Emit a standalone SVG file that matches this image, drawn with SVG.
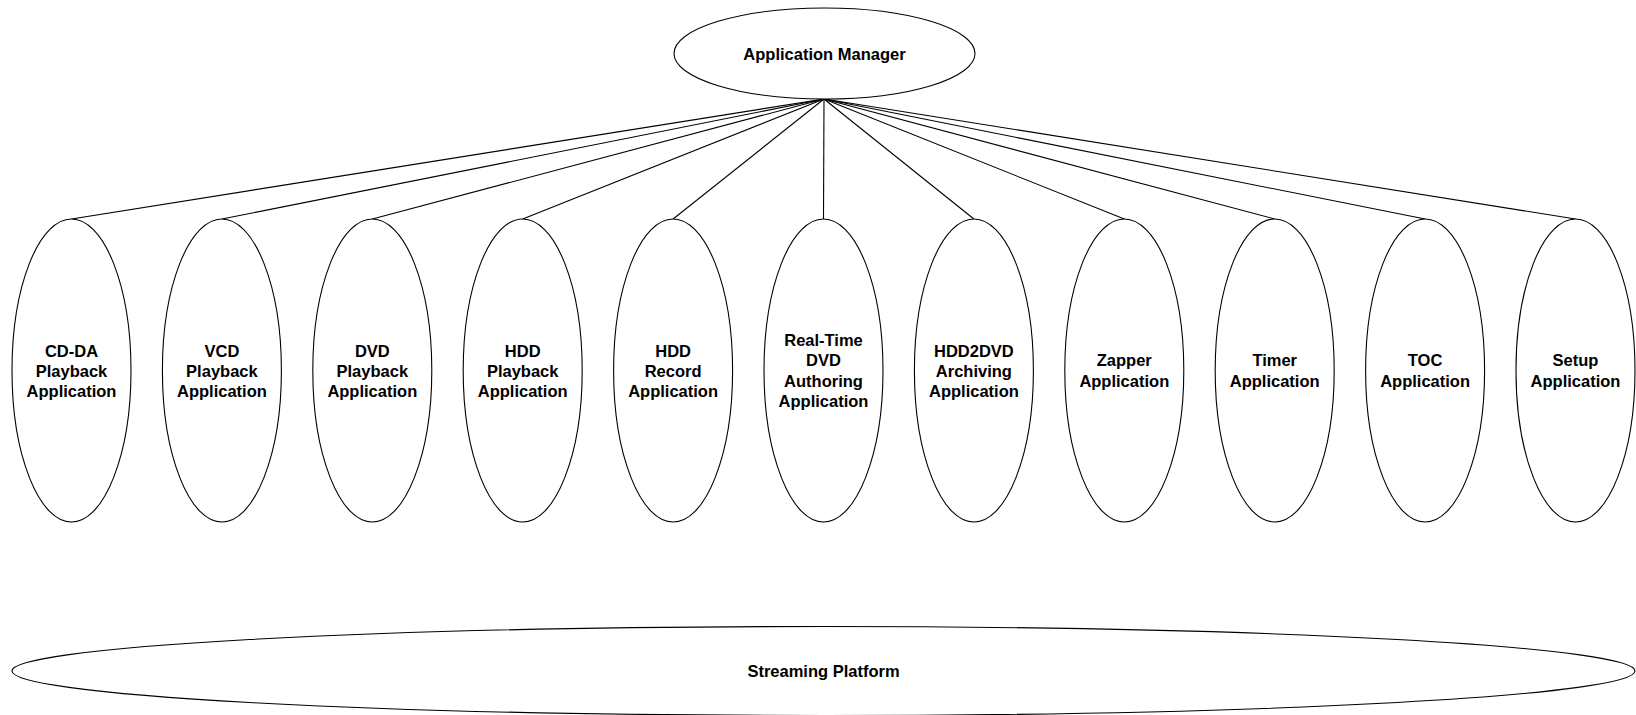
<svg xmlns="http://www.w3.org/2000/svg" width="1636" height="715" viewBox="0 0 1636 715">
<style>
.n{fill:#fff;stroke:#000;stroke-width:1.1}
.t{font-family:"Liberation Sans",Arial,sans-serif;font-weight:bold;font-size:16.5px;text-anchor:middle;fill:#000}
.c line{stroke:#000;stroke-width:1.1}
</style>
<rect width="1636" height="715" fill="#fff"/>
<g class="c" id="connectors">
<line x1="824" y1="99" x2="71.5" y2="219"/>
<line x1="824" y1="99" x2="221.9" y2="219"/>
<line x1="824" y1="99" x2="372.3" y2="219"/>
<line x1="824" y1="99" x2="522.7" y2="219"/>
<line x1="824" y1="99" x2="673.1" y2="219"/>
<line x1="824" y1="99" x2="823.5" y2="219"/>
<line x1="824" y1="99" x2="973.9" y2="219"/>
<line x1="824" y1="99" x2="1124.3" y2="219"/>
<line x1="824" y1="99" x2="1274.7" y2="219"/>
<line x1="824" y1="99" x2="1425.1" y2="219"/>
<line x1="824" y1="99" x2="1575.5" y2="219"/>
</g>
<g id="app-manager">
<ellipse class="n" cx="824.5" cy="53.5" rx="150.5" ry="45.5"/>
<text class="t" x="824.5" y="59.5">Application Manager</text>
</g>
<g id="cdda">
<ellipse class="n" cx="71.5" cy="370.5" rx="59.5" ry="151.5"/>
<text class="t" x="71.5" y="356.5">CD-DA<tspan x="71.5" dy="20.2">Playback</tspan><tspan x="71.5" dy="20.2">Application</tspan></text>
</g>
<g id="vcd">
<ellipse class="n" cx="221.9" cy="370.5" rx="59.5" ry="151.5"/>
<text class="t" x="221.9" y="356.5">VCD<tspan x="221.9" dy="20.2">Playback</tspan><tspan x="221.9" dy="20.2">Application</tspan></text>
</g>
<g id="dvd">
<ellipse class="n" cx="372.3" cy="370.5" rx="59.5" ry="151.5"/>
<text class="t" x="372.3" y="356.5">DVD<tspan x="372.3" dy="20.2">Playback</tspan><tspan x="372.3" dy="20.2">Application</tspan></text>
</g>
<g id="hdd-playback">
<ellipse class="n" cx="522.7" cy="370.5" rx="59.5" ry="151.5"/>
<text class="t" x="522.7" y="356.5">HDD<tspan x="522.7" dy="20.2">Playback</tspan><tspan x="522.7" dy="20.2">Application</tspan></text>
</g>
<g id="hdd-record">
<ellipse class="n" cx="673.1" cy="370.5" rx="59.5" ry="151.5"/>
<text class="t" x="673.1" y="356.5">HDD<tspan x="673.1" dy="20.2">Record</tspan><tspan x="673.1" dy="20.2">Application</tspan></text>
</g>
<g id="realtime-dvd">
<ellipse class="n" cx="823.5" cy="370.5" rx="59.5" ry="151.5"/>
<text class="t" x="823.5" y="346.2">Real-Time<tspan x="823.5" dy="20.2">DVD</tspan><tspan x="823.5" dy="20.2">Authoring</tspan><tspan x="823.5" dy="20.2">Application</tspan></text>
</g>
<g id="hdd2dvd">
<ellipse class="n" cx="973.9" cy="370.5" rx="59.5" ry="151.5"/>
<text class="t" x="973.9" y="356.5">HDD2DVD<tspan x="973.9" dy="20.2">Archiving</tspan><tspan x="973.9" dy="20.2">Application</tspan></text>
</g>
<g id="zapper">
<ellipse class="n" cx="1124.3" cy="370.5" rx="59.5" ry="151.5"/>
<text class="t" x="1124.3" y="366.4">Zapper<tspan x="1124.3" dy="20.2">Application</tspan></text>
</g>
<g id="timer">
<ellipse class="n" cx="1274.7" cy="370.5" rx="59.5" ry="151.5"/>
<text class="t" x="1274.7" y="366.4">Timer<tspan x="1274.7" dy="20.2">Application</tspan></text>
</g>
<g id="toc">
<ellipse class="n" cx="1425.1" cy="370.5" rx="59.5" ry="151.5"/>
<text class="t" x="1425.1" y="366.4">TOC<tspan x="1425.1" dy="20.2">Application</tspan></text>
</g>
<g id="setup">
<ellipse class="n" cx="1575.5" cy="370.5" rx="59.5" ry="151.5"/>
<text class="t" x="1575.5" y="366.4">Setup<tspan x="1575.5" dy="20.2">Application</tspan></text>
</g>
<g id="streaming-platform">
<ellipse class="n" cx="823.5" cy="671" rx="811.5" ry="44.5"/>
<text class="t" x="823.5" y="677">Streaming Platform</text>
</g>
</svg>
